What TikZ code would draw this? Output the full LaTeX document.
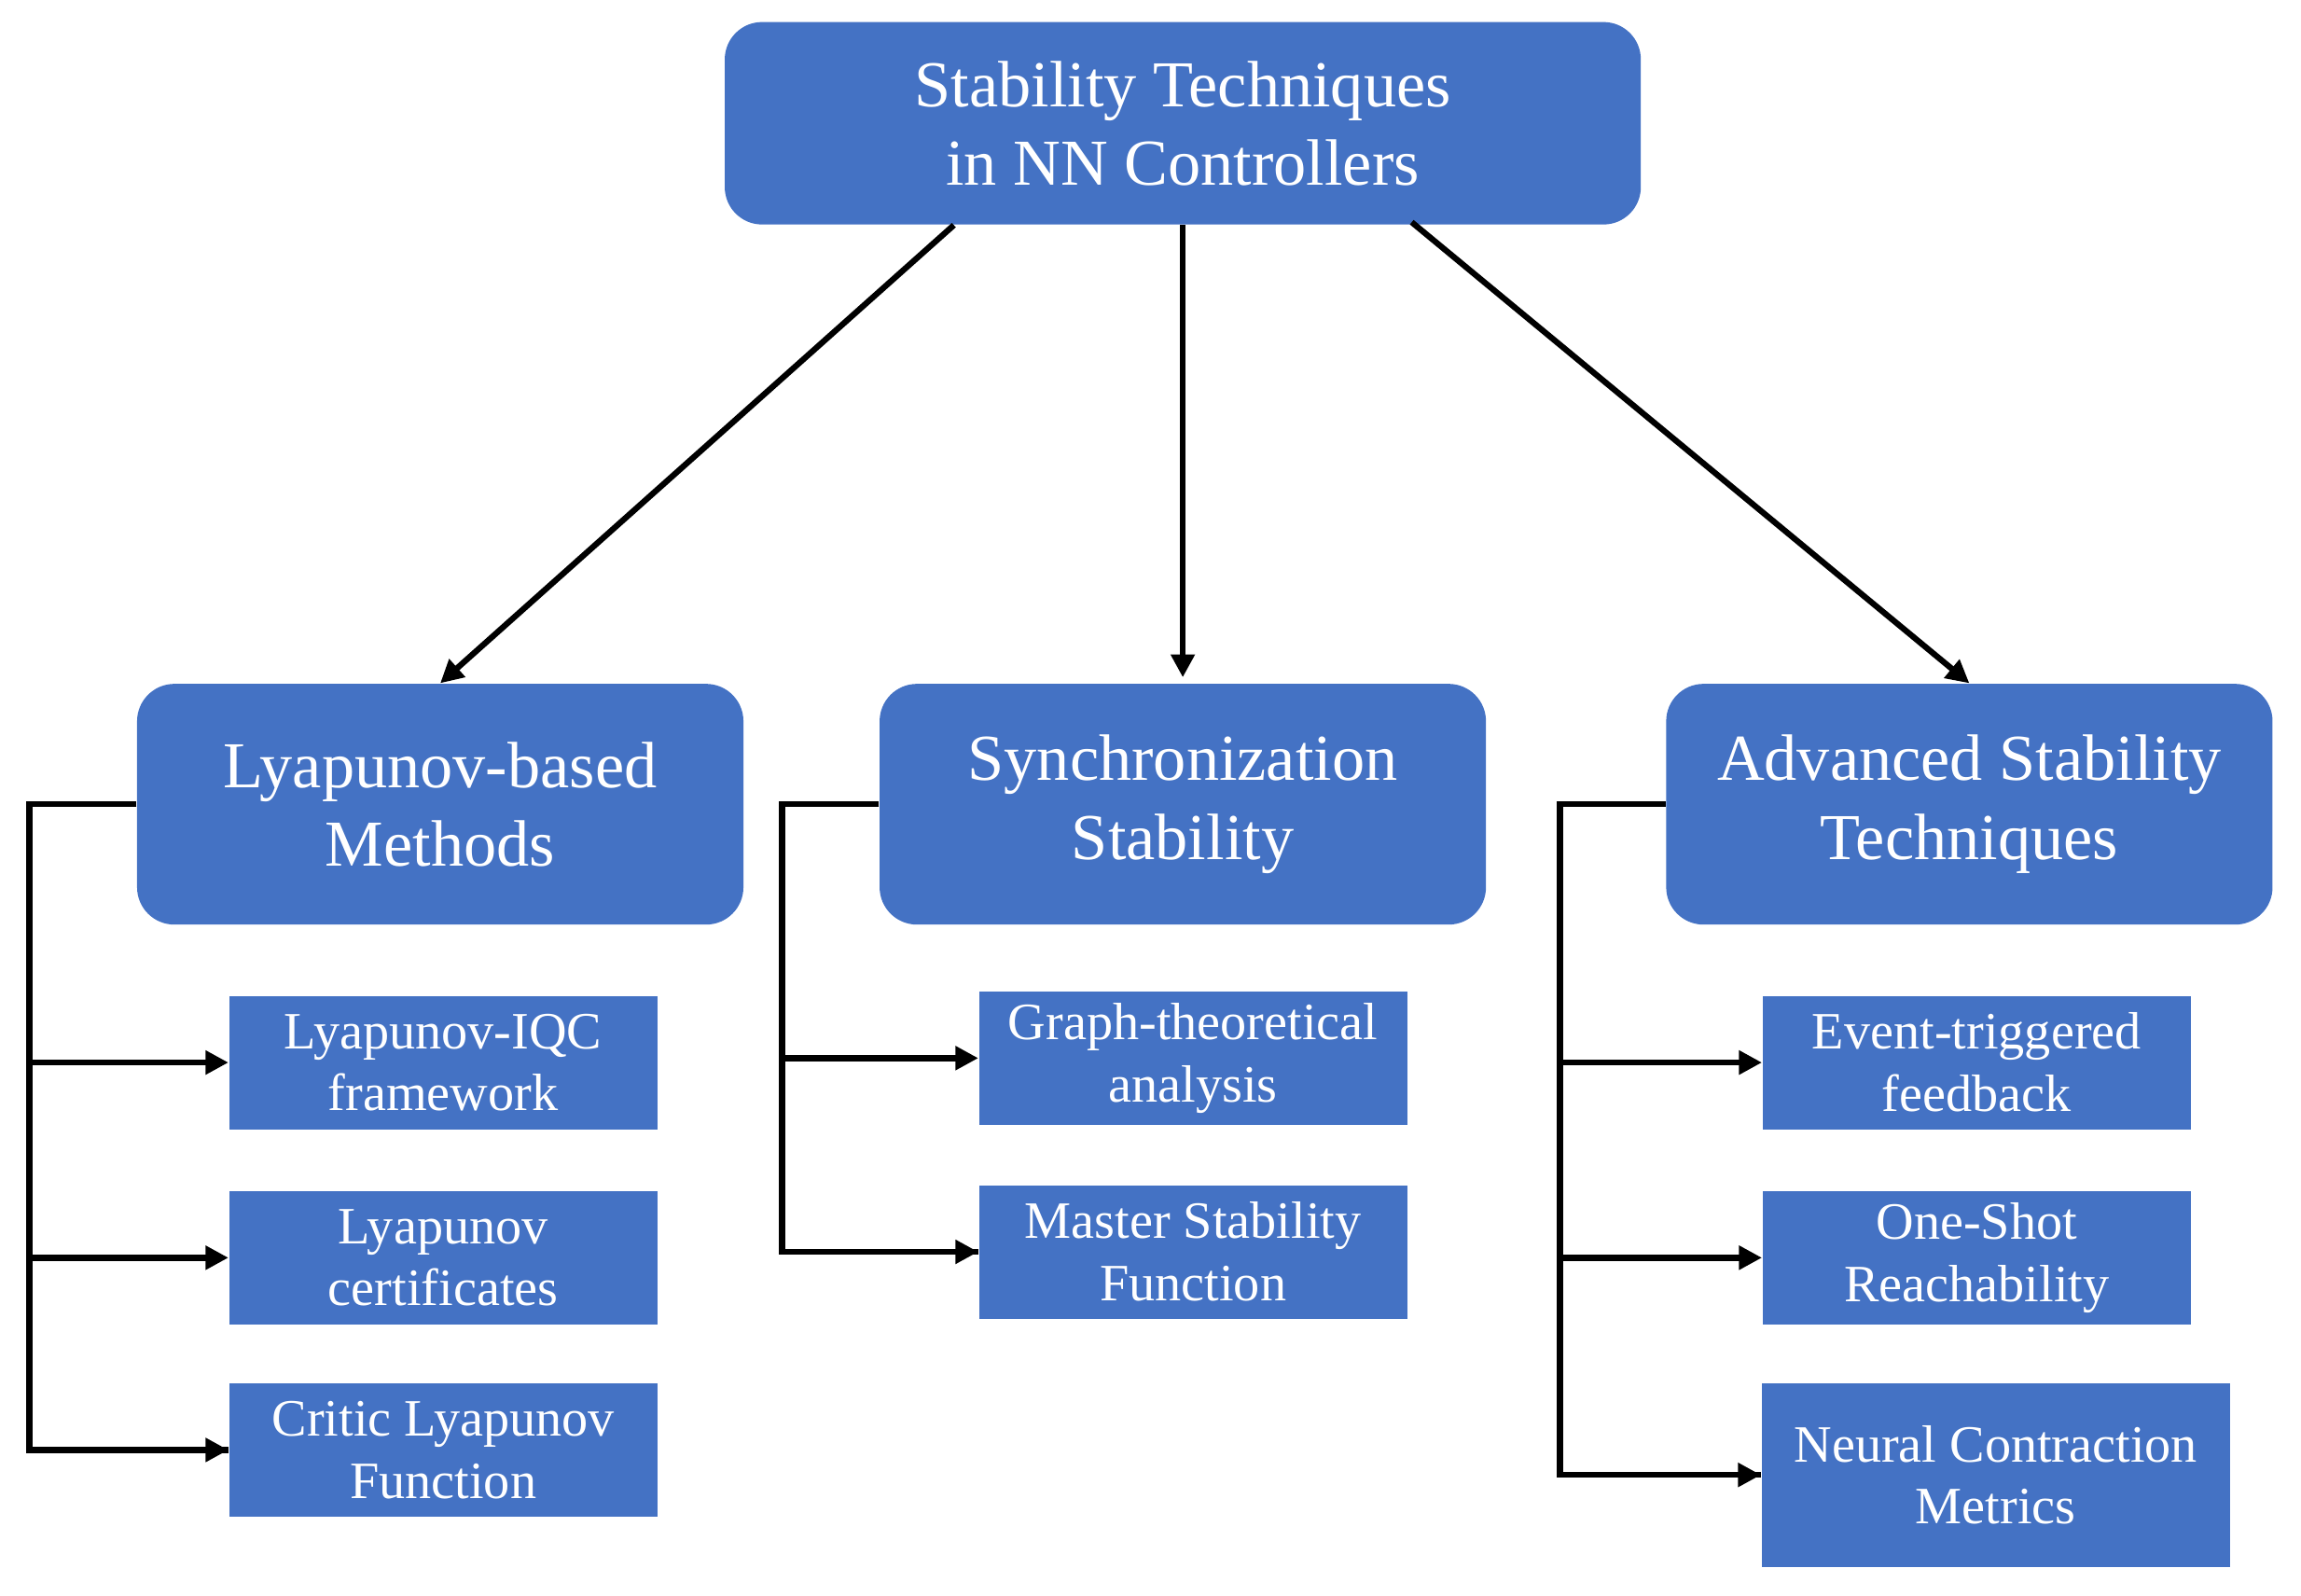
\documentclass[tikz,border=0pt]{standalone}
\usepackage{fontspec}
\setmainfont{Liberation Serif}
\usetikzlibrary{arrows.meta,calc}
\definecolor{boxblue}{HTML}{4472C4}
\begin{document}
\begin{tikzpicture}[
    x=0.01573cm, y=-0.01573cm,
    head/.style={rectangle, fill=boxblue, text=white, rounded corners=0.4cm, align=center, font=\fontsize{20}{24}\selectfont, inner sep=0pt},
    leaf/.style={rectangle, fill=boxblue, text=white, minimum width=4.59cm, minimum height=1.43cm, align=center, font=\fontsize{16}{19}\selectfont, inner sep=0pt},
    line/.style={line width=1.8pt},
    arrow/.style={-{Triangle[length=7pt,width=7pt]}, line width=1.8pt}
]
\useasboundingbox (0,0) rectangle (1568,1087);

% Root
\node[head, minimum width=9.82cm, minimum height=2.17cm] (root) at (806,84) {Stability Techniques\\in NN Controllers};

% Categories
\node[head, minimum width=6.5cm, minimum height=2.58cm] (lyap) at (300,548) {Lyapunov-based\\Methods};
\node[head, minimum width=6.5cm, minimum height=2.58cm] (sync) at (806,548) {Synchronization\\Stability};
\node[head, minimum width=6.5cm, minimum height=2.58cm] (adv) at (1342,548) {Advanced Stability\\Techniques};

% Leaves
\node[leaf] (iqc) at (302,724) {Lyapunov-IQC\\framework};
\node[leaf] (cert) at (302,857) {Lyapunov\\certificates};
\node[leaf] (critic) at (302,988) {Critic Lyapunov\\Function};
\node[leaf] (graph) at (813,721) {Graph-theoretical\\analysis};
\node[leaf] (msf) at (813,853) {Master Stability\\Function};
\node[leaf] (event) at (1347,724) {Event-triggered\\feedback};
\node[leaf] (shot) at (1347,857) {One-Shot\\Reachability};
\node[leaf, minimum width=5.02cm, minimum height=1.97cm] (ncm) at (1360,1005) {Neural Contraction\\Metrics};

% Root arrows
\draw[arrow] ($(root.south)+(-156,0)$) -- (lyap.north);
\draw[arrow] (root.south) -- ($(sync.north)+(0,-4)$);
\draw[arrow] ($(root.south)+(156,-2)$) -- (adv.north);

% Brackets
\coordinate (lbar) at (20,548);
\coordinate (sbar) at (533,548);
\coordinate (abar) at (1063,548);
\draw[line] (lyap.west) -- (lbar) |- (critic.west);
\draw[arrow] (iqc.west -| lbar) -- (iqc.west);
\draw[arrow] (cert.west -| lbar) -- (cert.west);
\draw[arrow] (critic.west -| lbar) -- (critic.west);
\draw[line] (sync.west) -- (sbar) |- (msf.west);
\draw[arrow] (graph.west -| sbar) -- (graph.west);
\draw[arrow] (msf.west -| sbar) -- (msf.west);
\draw[line] (adv.west) -- (abar) |- (ncm.west);
\draw[arrow] (event.west -| abar) -- (event.west);
\draw[arrow] (shot.west -| abar) -- (shot.west);
\draw[arrow] (ncm.west -| abar) -- (ncm.west);
\end{tikzpicture}
\end{document}
